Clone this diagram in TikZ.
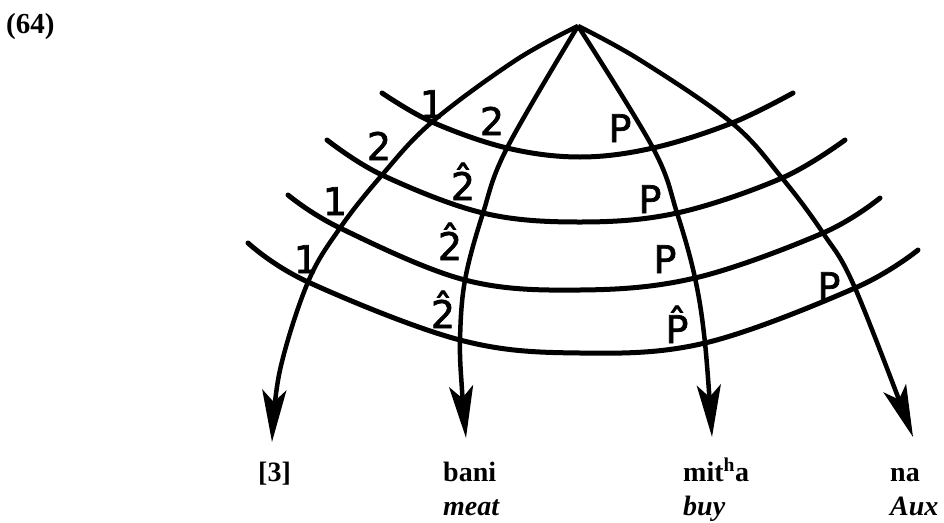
\documentclass[tikz,border=0pt]{standalone}
\usepackage{fontspec}
\setmainfont{Liberation Serif}
\newfontfamily\lblfont[FakeBold=1.8]{DejaVu Sans}
\usetikzlibrary{arrows.meta}
\newcommand{\hatted}[1]{\ooalign{#1\cr\hidewidth\raisebox{7pt}{ˆ}\hidewidth\cr}}
\begin{document}
\begin{tikzpicture}[x=1pt,y=-1pt,
  band/.style={line width=5pt, line cap=round},
  spoke/.style={line width=4.5pt, -{Stealth[length=52pt,width=24pt,inset=12pt]}},
  lbl/.style={font=\lblfont\fontsize{38}{40}\selectfont, inner sep=0pt, anchor=base},
  word/.style={font=\bfseries\fontsize{28}{30}\selectfont, inner sep=0pt, anchor=base west},
  gloss/.style={font=\bfseries\itshape\fontsize{28}{30}\selectfont, inner sep=0pt, anchor=base west}]
\useasboundingbox (0,0) rectangle (944,522);

% example number
\node[anchor=base west, inner sep=0pt, font=\bfseries\fontsize{29}{30}\selectfont] (num) at (6,33) {(64)};

% apex and arrow ends
\coordinate (apex) at (578,26);
\coordinate (t1) at (272,442);
\coordinate (t2) at (466,438);
\coordinate (t3) at (712,437);
\coordinate (t4) at (913,437);

% horizontal arcs
\draw[band] plot[smooth, tension=0.6] coordinates {(382,93) (432,122) (507,148) (580,157) (653,148) (732,123) (793,93)};
\draw[band] plot[smooth, tension=0.6] coordinates {(327,140) (382,175) (483,213) (580,222) (677,213) (782,178) (845,140)};
\draw[band] plot[smooth, tension=0.6] coordinates {(288,195) (340,228) (465,280) (580,290) (695,278) (823,233) (880,198)};
\draw[band] plot[smooth, tension=0.6] coordinates {(248,243) (308,282) (460,340) (580,353) (705,343) (855,288) (918,250)};

% spokes
\draw[spoke] plot[smooth, tension=0.6] coordinates {(apex) (516,60) (432,122) (382,175) (340,228) (308,282) (280,370) (t1)};
\draw[spoke] plot[smooth, tension=0.6] coordinates {(apex) (507,148) (483,213) (465,280) (460,340) (462,390) (t2)};
\draw[spoke] plot[smooth, tension=0.6] coordinates {(apex) (653,148) (677,213) (695,278) (705,343) (t3)};
\draw[spoke] plot[smooth, tension=0.6] coordinates {(apex) (640,60) (732,123) (782,178) (823,233) (855,288) (t4)};

% spoke labels
\node[lbl] (l1a) at (432,118) {1};
\node[lbl] (l2a) at (492,135) {2};
\node[lbl] (lPa) at (620,142) {P};
\node[lbl] (l2b) at (379,160) {2};
\node[lbl] (l2hb) at (463,200) {\hatted{2}};
\node[lbl] (lPb) at (650,213) {P};
\node[lbl] (l1c) at (335,215) {1};
\node[lbl] (l2hc) at (450,260) {\hatted{2}};
\node[lbl] (lPc) at (665,273) {P};
\node[lbl] (l1d) at (306,273) {1};
\node[lbl] (l2hd) at (443,328) {\hatted{2}};
\node[lbl] (lPhd) at (677,343) {\hatted{P}};
\node[lbl] (lPe) at (829,300) {P};

% words and glosses
\node[word] (w1) at (258,481) {[3]};
\node[word] (w2) at (443,481) {bani};
\node[word] (w3) at (683,481) {mit\textsuperscript{h}a};
\node[word] (w4) at (890,481) {na};
\node[gloss] (g2) at (443,515) {meat};
\node[gloss] (g3) at (683,515) {buy};
\node[gloss] (g4) at (890,515) {Aux};
\end{tikzpicture}
\end{document}
